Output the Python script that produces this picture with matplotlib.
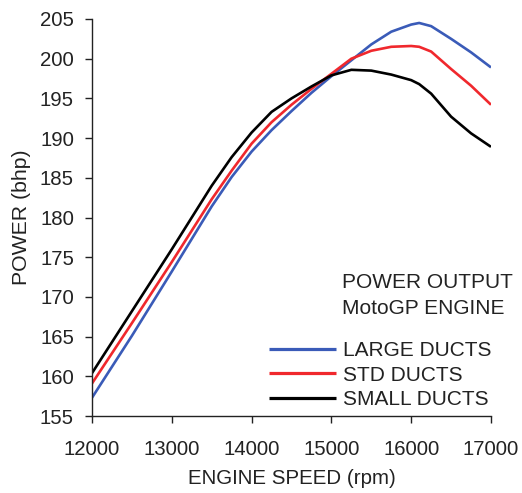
import matplotlib
matplotlib.use("Agg")
import matplotlib.pyplot as plt

plt.rcParams['font.family'] = ['Liberation Sans', 'DejaVu Sans']

rpm = [12000, 12500, 13000, 13500, 13750, 14000, 14250, 14500, 14750, 15000,
       15250, 15500, 15750, 16000, 16100, 16250, 16500, 16750, 17000]
large_ducts = [157.3, 165.1, 173.2, 181.4, 185.1, 188.3, 191.0, 193.4, 195.7, 197.8,
               199.8, 201.8, 203.4, 204.3, 204.5, 204.1, 202.5, 200.8, 198.9]
std_ducts = [159.1, 166.7, 174.4, 182.3, 185.9, 189.3, 192.0, 194.2, 196.2, 198.1,
             200.0, 201.0, 201.5, 201.6, 201.5, 200.9, 198.7, 196.6, 194.2]
small_ducts = [160.4, 168.2, 176.0, 184.0, 187.6, 190.7, 193.3, 195.0, 196.5, 197.9,
               198.6, 198.5, 198.0, 197.3, 196.8, 195.6, 192.7, 190.6, 188.9]

series_labels = ['LARGE DUCTS', 'STD DUCTS', 'SMALL DUCTS']
colors = ['#3A5BB8', '#F0282D', '#000000']
xticks = [12000, 13000, 14000, 15000, 16000, 17000]
yticks = [155, 160, 165, 170, 175, 180, 185, 190, 195, 200, 205]

W, H = 522, 493
fig = plt.figure(figsize=(W / 100, H / 100), dpi=100)
ax = fig.add_axes([92 / W, 1 - 416 / H, (491 - 92) / W, (416 - 19) / H])

for ys, c, lab in zip([large_ducts, std_ducts, small_ducts], colors, series_labels):
    ax.plot(rpm, ys, color=c, lw=1.9, label=lab, solid_capstyle='butt')

ax.set_xlim(12000, 17000)
ax.set_ylim(155, 205)
ax.set_xticks(xticks)
ax.set_yticks(yticks)
ax.set_xticklabels([str(v) for v in xticks])
ax.set_yticklabels([str(v) for v in yticks])
for s in ['top', 'right']:
    ax.spines[s].set_visible(False)
for s in ['left', 'bottom']:
    ax.spines[s].set_linewidth(1.0)
    ax.spines[s].set_color('#222222')
ax.tick_params(axis='both', direction='out', length=5, width=1.0, colors='#222222',
               labelsize=14.7, labelcolor='#222222')
ax.tick_params(axis='y', pad=8)
ax.tick_params(axis='x', pad=12.5)

ax.set_xlabel('ENGINE SPEED (rpm)', fontsize=14.8, color='#222222', labelpad=7)
ax.set_ylabel('POWER (bhp)', fontsize=15.3, color='#222222', labelpad=6.5)

fig.text(342 / W, 1 - 283 / H, 'POWER OUTPUT', fontsize=15, color='#222222',
         ha='left', va='center')
fig.text(342 / W, 1 - 308 / H, 'MotoGP ENGINE', fontsize=15, color='#222222',
         ha='left', va='center')

leg = ax.legend(loc='upper left', bbox_to_anchor=(269 / W, 1 - 341 / H),
                bbox_transform=fig.transFigure, frameon=False, fontsize=15,
                handlelength=3.2, handletextpad=0.34, labelspacing=0.27,
                borderpad=0, borderaxespad=0)
for line in leg.get_lines():
    line.set_linewidth(2.3)
for t in leg.get_texts():
    t.set_color('#222222')

fig.savefig('out.png', dpi=100)
